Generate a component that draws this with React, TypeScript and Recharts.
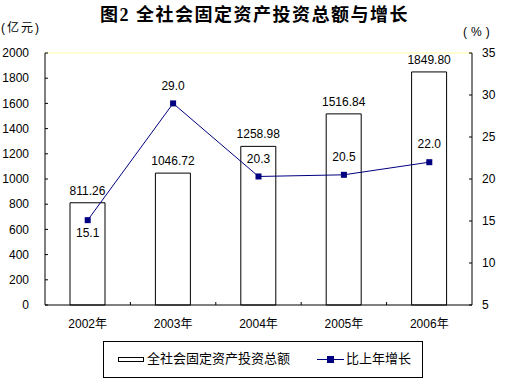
import React from 'react';
import {Bar, ComposedChart, LabelList, Line, ReferenceLine, XAxis, YAxis} from 'recharts';

const years = ['2002年', '2003年', '2004年', '2005年', '2006年'];
const investment = [811.26, 1046.72, 1258.98, 1516.84, 1849.8];
const growth = [15.1, 29.0, 20.3, 20.5, 22.0];
const leftTicks = [0, 200, 400, 600, 800, 1000, 1200, 1400, 1600, 1800, 2000];
const rightTicks = [5, 10, 15, 20, 25, 30, 35];

const data = years.map((year, i) => ({
  year,
  investment: investment[i],
  growth: growth[i],
}));

const FONT = '"Liberation Sans", Arial, "Noto Sans CJK SC", sans-serif';
const NAVY = '#000080';
const X_TICK_MARGIN = 14;

const SquareDot = (props: any) => {
  const {cx, cy, index} = props;
  return <rect key={`dot-${index}`} x={cx - 3} y={cy - 3} width={6} height={6} fill={NAVY} />;
};

// first point's label sits below the marker, the rest above
const GrowthLabel = (props: any) => {
  const {x, y, value, index} = props;
  const below = index === 0;
  return (
    <text
      x={x}
      y={below ? y + 13 : y - 18}
      dy='0.35em'
      textAnchor='middle'
      fontSize={12}
      fontFamily={FONT}
      fill='#000'
    >
      {Number(value).toFixed(1)}
    </text>
  );
};

// category label plus a small inward tick on the boundary to its right
const YearTick = (props: any) => {
  const {x, y, payload, index, visibleTicksCount, width} = props;
  const half = payload?.offset ?? (width && visibleTicksCount ? width / visibleTicksCount / 2 : 0);
  const axisY = y - X_TICK_MARGIN;
  const last = index === (visibleTicksCount ?? years.length) - 1;
  return (
    <g>
      {!last && half > 0 && (
        <line x1={x + half} x2={x + half} y1={axisY} y2={axisY - 3} stroke='#000' />
      )}
      <text x={x} y={y} dy='0.71em' textAnchor='middle' fontSize={12} fontFamily={FONT} fill='#000'>
        {payload.value}
      </text>
    </g>
  );
};

export default function App() {
  return (
    <div
      style={{
        position: 'fixed',
        left: 0,
        top: 0,
        width: 509,
        height: 385,
        background: '#fff',
        fontFamily: FONT,
        color: '#000',
      }}
    >
      <div
        style={{
          position: 'absolute',
          left: 0,
          top: 5,
          width: 509,
          textAlign: 'center',
          fontSize: 18,
          lineHeight: '20px',
          fontWeight: 700,
          letterSpacing: 1.5,
          fontFamily: '"Liberation Serif", "Noto Sans CJK SC", serif',
        }}
      >
        图2 全社会固定资产投资总额与增长
      </div>
      <div style={{position: 'absolute', left: 1, top: 21, fontSize: 12, lineHeight: '14px', letterSpacing: 2}}>
        (亿元)
      </div>
      <div style={{position: 'absolute', left: 463, top: 25, fontSize: 12, lineHeight: '14px', letterSpacing: 4}}>
        (%)
      </div>

      <ComposedChart
        width={509}
        height={385}
        data={data}
        margin={{top: 53, right: 0, left: 0, bottom: 50}}
        style={{position: 'absolute', left: 0, top: 0}}
      >
        <XAxis
          dataKey='year'
          height={30}
          axisLine={{stroke: '#000'}}
          tickLine={false}
          tickSize={0}
          tickMargin={X_TICK_MARGIN}
          interval={0}
          tick={YearTick}
        />
        <YAxis
          yAxisId='left'
          domain={[0, 2000]}
          ticks={leftTicks}
          interval={0}
          width={45}
          tickSize={-3}
          tickMargin={19}
          axisLine={{stroke: '#000'}}
          tickLine={{stroke: '#000'}}
          tick={{fontSize: 12, fill: '#000', fontFamily: FONT}}
        />
        <YAxis
          yAxisId='right'
          orientation='right'
          domain={[5, 35]}
          ticks={rightTicks}
          interval={0}
          width={37}
          tickSize={-3}
          tickMargin={13}
          axisLine={{stroke: '#000'}}
          tickLine={{stroke: '#000'}}
          tick={{fontSize: 12, fill: '#000', fontFamily: FONT, textAnchor: 'start'}}
        />
        <ReferenceLine yAxisId='left' y={2000} stroke='#ffffa0' />
        <Bar
          yAxisId='left'
          dataKey='investment'
          barSize={35}
          fill='#fff'
          stroke='#000'
          strokeWidth={1}
          isAnimationActive={false}
        >
          <LabelList
            dataKey='investment'
            position='top'
            offset={8}
            formatter={(v: any) => Number(v).toFixed(2)}
            style={{fontSize: 12, fill: '#000', fontFamily: FONT}}
          />
        </Bar>
        <Line
          yAxisId='right'
          dataKey='growth'
          stroke={NAVY}
          strokeWidth={1}
          dot={SquareDot}
          activeDot={false}
          isAnimationActive={false}
        >
          <LabelList dataKey='growth' content={GrowthLabel} />
        </Line>
      </ComposedChart>

      <div
        style={{
          position: 'absolute',
          left: 103,
          top: 341,
          width: 320,
          height: 37,
          border: '1px solid #000',
          boxSizing: 'border-box',
          fontSize: 13,
        }}
      >
        <div
          style={{
            position: 'absolute',
            left: 14,
            top: 15,
            width: 26,
            height: 5,
            border: '1px solid #000',
            boxSizing: 'border-box',
          }}
        />
        <div style={{position: 'absolute', left: 43, top: 9, lineHeight: '16px'}}>全社会固定资产投资总额</div>
        <div style={{position: 'absolute', left: 213, top: 17, width: 27, height: 1, background: NAVY}} />
        <div style={{position: 'absolute', left: 223, top: 14, width: 7, height: 7, background: NAVY}} />
        <div style={{position: 'absolute', left: 242, top: 9, lineHeight: '16px'}}>比上年增长</div>
      </div>
    </div>
  );
}
